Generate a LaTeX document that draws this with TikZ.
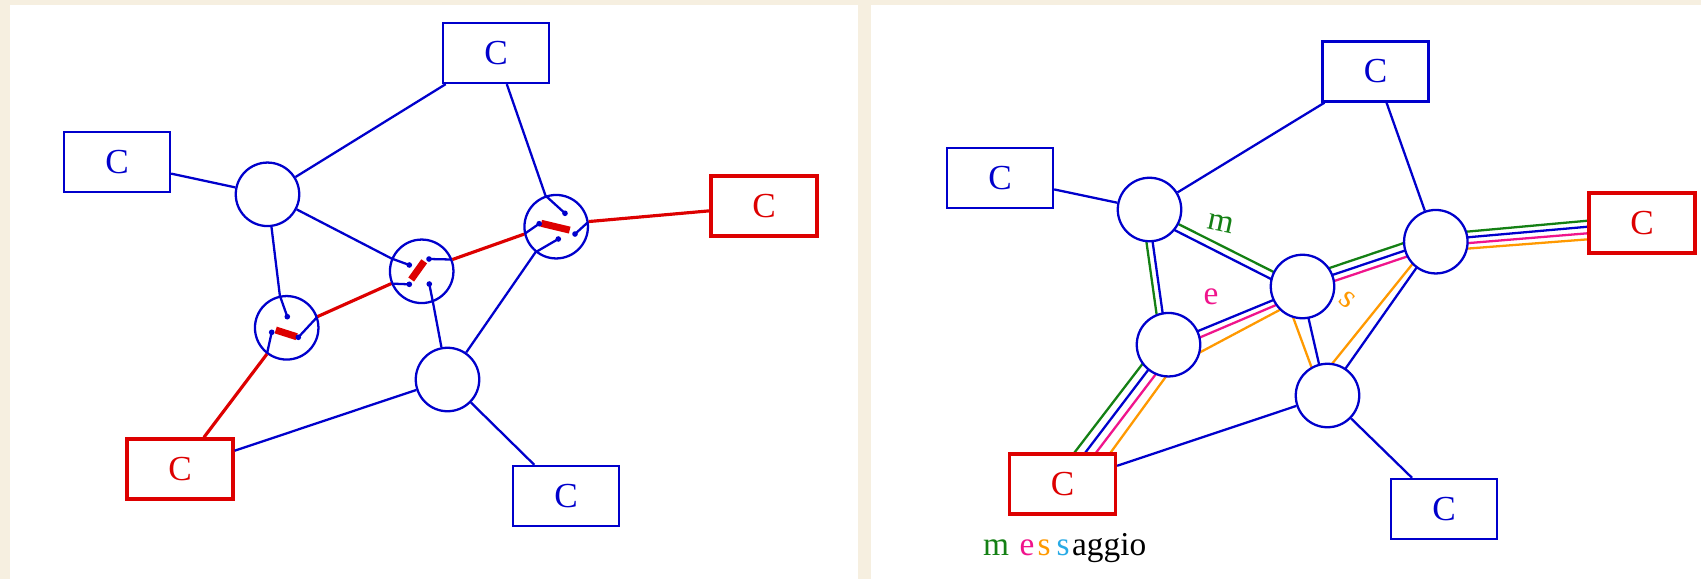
\documentclass[tikz,border=0pt]{standalone}
\usepackage{fontspec}
\setmainfont{Liberation Serif}
\usetikzlibrary{calc}

\definecolor{netblue}{RGB}{0,0,204}
\definecolor{netred}{RGB}{221,0,0}
\definecolor{msggreen}{RGB}{20,128,20}
\definecolor{msgpink}{RGB}{240,20,140}
\definecolor{msgorange}{RGB}{255,153,0}
\definecolor{msgsky}{RGB}{40,170,230}
\definecolor{slidebg}{RGB}{246,239,224}

\pgfdeclarelayer{panel}
\pgfdeclarelayer{wires}
\pgfsetlayers{panel,wires,main}

\newcommand{\msgfont}{\fontsize{19pt}{21pt}\selectfont}
% a line running beside the link from #1 to #2, shifted by #3 at #1 and #4 at #2
\newcommand{\lane}[5]{\draw[#5] ($(#1)!#3!90:(#2)$) -- ($(#2)!#4!-90:(#1)$);}

\begin{document}
\begin{tikzpicture}[x=0.02cm, y=-0.02cm,
    hub/.style={circle, draw=netblue, line width=1.3pt, fill=white, minimum size=1.27cm, inner sep=0pt},
    host/.style={rectangle, draw=netblue, line width=1.3pt, fill=white, minimum width=2.12cm, minimum height=1.2cm, text=netblue, font=\fontsize{20pt}{22pt}\selectfont},
    endhost/.style={host, draw=netred, text=netred, line width=1.9pt},
    link/.style={netblue, line width=1.3pt},
    route/.style={netred, line width=1.8pt},
    switchbar/.style={netred, line width=4pt},
    lanepen/.style={line width=1.3pt}]
    \useasboundingbox (0,0) rectangle (1701,579);

    % Slide background
    \begin{pgfonlayer}{panel}
        \fill[slidebg] (0,0) rectangle (1701,579);
        \fill[white] (10,5) rectangle (858,579);
        \fill[white] (871,5) rectangle (1701,579);
    \end{pgfonlayer}

    % Left: circuit switching
    \node[hub] (lA) at (267.5,194.3) {};
    \node[hub] (lB) at (421.7,271.3) {};
    \node[hub] (lD) at (556.2,226.7) {};
    \node[hub] (lE) at (286.7,327.8) {};
    \node[hub] (lF) at (447.5,379.5) {};
    \node[host] (lC1) at (496,53) {C};
    \node[host] (lC2) at (117,162) {C};
    \node[endhost] (lC3) at (764,206) {C};
    \node[endhost] (lC4) at (180,469) {C};
    \node[host] (lC5) at (566,496) {C};

    % pins inside the switches
    \coordinate (e1) at ($(lE)+(0.6,-11.1)$);
    \coordinate (e2) at ($(lE)+(-15,4.5)$);
    \coordinate (e3) at ($(lE)+(11.6,9.5)$);
    \coordinate (b1) at ($(lB)+(-12.4,-6.3)$);
    \coordinate (b2) at ($(lB)+(-12.4,13)$);
    \coordinate (b3) at ($(lB)+(7.3,-12.3)$);
    \coordinate (b4) at ($(lB)+(7.6,12.7)$);
    \coordinate (d1) at ($(lD)+(8.8,-13.4)$);
    \coordinate (d2) at ($(lD)+(-17,-3)$);
    \coordinate (d3) at ($(lD)+(18.8,7.3)$);
    \coordinate (d4) at ($(lD)+(2.1,12.3)$);

    % idle links
    \draw[link] (lC2) -- (lA);
    \draw[link] (lA) -- (lC1);
    \draw[link] (lC4) -- (lF);
    \draw[link] (lF) -- (lC5);
    \draw[link] (lA) -- (lB.157) -- (b1);
    \draw[link] (lA) -- (lE.102) -- (e1);
    \draw[link] (lC1) -- (lD.109) -- (d1);
    \draw[link] (lF) -- (lB.290) -- (b4);
    \draw[link] (lF) -- (lD.231) -- (d4);
    \draw[link] (lE.233) -- (e2);
    \draw[link] (e3) -- (lE.20);
    \draw[link] (lB.202) -- (b2);
    \draw[link] (b3) -- (lB.21);
    \draw[link] (lD.193) -- (d2);
    \draw[link] (d3) -- (lD.9);

    % the circuit
    \draw[route] (lC4) -- (lE.233);
    \draw[route] (lE.20) -- (lB.202);
    \draw[route] (lB.21) -- (lD.193);
    \draw[route] (lD.9) -- (lC3);
    \draw[switchbar] ($(lE)+(-11,2.2)$) -- ($(lE)+(10,8.9)$);
    \draw[switchbar] ($(lB)+(-10.5,8.2)$) -- ($(lB)+(2.5,-10)$);
    \draw[switchbar] ($(lD)+(-15,-3.4)$) -- ($(lD)+(13.5,3.4)$);
    \foreach \p in {e1,e2,e3,b1,b2,b3,b4,d1,d2,d3,d4}
        \fill[netblue] (\p) circle (1.6pt);

    % Right: packet switching
    \node[hub] (rG) at (1149.5,209.5) {};
    \node[hub] (rH) at (1302.5,286.5) {};
    \node[hub] (rI) at (1168.5,344.7) {};
    \node[hub] (rJ) at (1327.5,395.5) {};
    \node[hub] (rK) at (1435.8,241.7) {};
    \node[host] (rC1) at (1375.5,71.5) {C};
    \node[host] (rC2) at (1000,178) {C};
    \node[endhost] (rC3) at (1642,223) {C};
    \node[endhost] (rC4) at (1062.5,484) {C};
    \node[host] (rC5) at (1444,509) {C};

    \begin{pgfonlayer}{wires}
        \draw[link] (rC2) -- (rG);
        \draw[link] (rG) -- (rC1);
        \draw[link] (rC1) -- (rK);
        \draw[link] (rC4) -- (rJ);
        \draw[link] (rJ) -- (rC5);
        % m
        \lane{rG}{rH}{0pt}{0pt}{lanepen, msggreen}
        \lane{rG}{rH}{-4pt}{-4.3pt}{link}
        \lane{rG}{rI}{-4.3pt}{-4.3pt}{lanepen, msggreen}
        \lane{rG}{rI}{-0.8pt}{-0.8pt}{link}
        % e
        \lane{rI}{rH}{0.8pt}{-0.8pt}{link}
        \lane{rI}{rH}{-3.2pt}{-3.8pt}{lanepen, msgpink}
        \lane{rI}{rH}{-12.3pt}{-5.7pt}{lanepen, msgorange}
        \lane{rH}{rK}{5.1pt}{5.1pt}{lanepen, msggreen}
        \lane{rH}{rK}{0.8pt}{0.8pt}{link}
        \lane{rH}{rK}{-2.8pt}{-2.8pt}{lanepen, msgpink}
        % s
        \lane{rH}{rJ}{-11.2pt}{-3pt}{lanepen, msgorange}
        \lane{rH}{rJ}{-0.7pt}{-0.7pt}{link}
        \lane{rJ}{rK}{9.3pt}{2.4pt}{lanepen, msgorange}
        \lane{rJ}{rK}{0.45pt}{0.45pt}{link}
        % into and out of the end hosts
        \lane{rK}{rC3}{4.1pt}{4.1pt}{lanepen, msggreen}
        \lane{rK}{rC3}{0.9pt}{0.6pt}{link}
        \lane{rK}{rC3}{-2.3pt}{-3.3pt}{lanepen, msgpink}
        \lane{rK}{rC3}{-5.3pt}{-6.9pt}{lanepen, msgorange}
        \lane{rC4}{rI}{5.5pt}{5.1pt}{lanepen, msggreen}
        \lane{rC4}{rI}{0.5pt}{0.5pt}{link}
        \lane{rC4}{rI}{-4.4pt}{-4.4pt}{lanepen, msgpink}
        \lane{rC4}{rI}{-11.6pt}{-9.5pt}{lanepen, msgorange}
    \end{pgfonlayer}

    % letters on the way
    \node[text=msggreen, font=\msgfont, rotate=-12] (mlab) at (1221,223) {m};
    \node[text=msgpink, font=\msgfont] (elab) at (1211,297) {e};
    \node[text=msgorange, font=\msgfont, rotate=-40] (slab) at (1347,300) {s};
    \node[anchor=base west, font=\msgfont, inner sep=0pt] (word) at (982.7,555)
        {\textcolor{msggreen}{m}\hspace{6pt}\textcolor{msgpink}{e}\hspace{1.9pt}\textcolor{msgorange}{s}\hspace{3.4pt}\textcolor{msgsky}{s}\hspace{1.4pt}aggio};
\end{tikzpicture}
\end{document}
